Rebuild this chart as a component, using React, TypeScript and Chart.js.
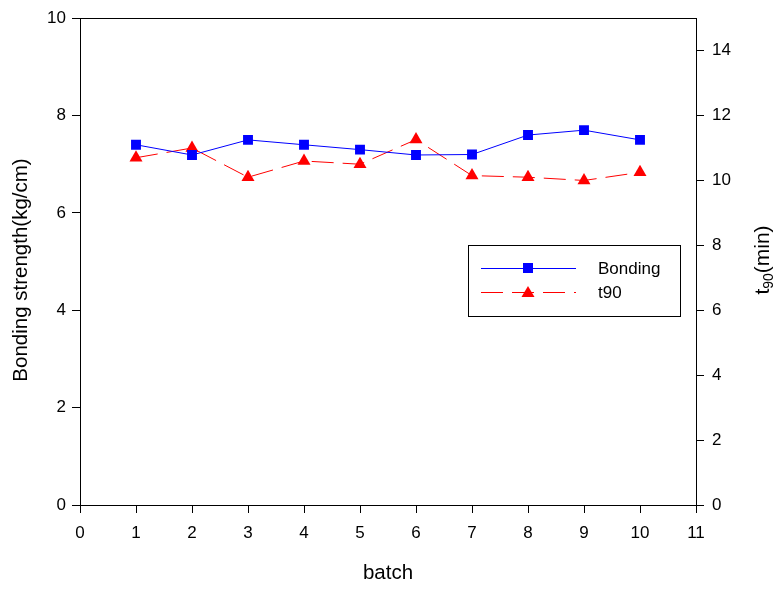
import React, { useEffect, useRef } from "react";
import { Chart, registerables } from "chart.js";

Chart.register(...registerables);

const batches = [1, 2, 3, 4, 5, 6, 7, 8, 9, 10];
const bondingValues = [7.4, 7.19, 7.5, 7.4, 7.3, 7.19, 7.2, 7.6, 7.7, 7.5];
const t90Values = [10.7, 11.0, 10.1, 10.6, 10.5, 11.26, 10.15, 10.1, 10.0, 10.25];
const xTicks = [0, 1, 2, 3, 4, 5, 6, 7, 8, 9, 10, 11];
const leftTicks = [0, 2, 4, 6, 8, 10];
const rightTicks = [0, 2, 4, 6, 8, 10, 12, 14];

const FONT = "'Liberation Sans', Arial, sans-serif";

const framePlugin = {
  id: "frame",
  afterDraw(chart: any) {
    const { ctx, chartArea: a } = chart;
    ctx.save();
    ctx.strokeStyle = "#000";
    ctx.lineWidth = 1;
    ctx.strokeRect(Math.round(a.left) + 0.5, Math.round(a.top) + 0.5, Math.round(a.right - a.left), Math.round(a.bottom - a.top));

    // axis titles
    ctx.fillStyle = "#000";
    ctx.font = `20.5px ${FONT}`;
    ctx.textAlign = "center";
    ctx.textBaseline = "middle";
    ctx.fillText("batch", (a.left + a.right) / 2, 573);

    ctx.save();
    ctx.translate(21, 270);
    ctx.rotate(-Math.PI / 2);
    ctx.fillText("Bonding strength(kg/cm)", 0, 0);
    ctx.restore();

    // right title t90(min) with subscript
    ctx.save();
    ctx.translate(763, 260);
    ctx.rotate(-Math.PI / 2);
    ctx.textAlign = "left";
    ctx.textBaseline = "middle";
    const p1 = "t";
    const p2 = "90";
    const p3 = "(min)";
    ctx.font = `21px ${FONT}`;
    const w1 = ctx.measureText(p1).width;
    ctx.font = `14px ${FONT}`;
    const w2 = ctx.measureText(p2).width;
    ctx.font = `21px ${FONT}`;
    const w3 = ctx.measureText(p3).width;
    let x = -(w1 + w2 + w3) / 2;
    ctx.fillText(p1, x, 0);
    x += w1;
    ctx.font = `14px ${FONT}`;
    ctx.fillText(p2, x, 6);
    x += w2;
    ctx.font = `21px ${FONT}`;
    ctx.fillText(p3, x, 0);
    ctx.restore();

    // legend
    const lx = 468, ly = 245, lw = 212, lh = 71;
    ctx.fillStyle = "#fff";
    ctx.fillRect(lx, ly, lw, lh);
    ctx.strokeStyle = "#000";
    ctx.strokeRect(lx + 0.5, ly + 0.5, lw, lh);
    // Bonding
    ctx.strokeStyle = "#0000ff";
    ctx.beginPath();
    ctx.moveTo(481, 268.5);
    ctx.lineTo(576, 268.5);
    ctx.stroke();
    ctx.fillStyle = "#0000ff";
    ctx.fillRect(523, 263, 10, 10);
    // t90
    ctx.strokeStyle = "#ff0000";
    ctx.setLineDash([22, 9]);
    ctx.beginPath();
    ctx.moveTo(481, 292.5);
    ctx.lineTo(576, 292.5);
    ctx.stroke();
    ctx.setLineDash([]);
    ctx.fillStyle = "#ff0000";
    ctx.beginPath();
    ctx.moveTo(528, 286);
    ctx.lineTo(534.5, 297);
    ctx.lineTo(521.5, 297);
    ctx.closePath();
    ctx.fill();
    ctx.fillStyle = "#000";
    ctx.font = `17px ${FONT}`;
    ctx.textAlign = "left";
    ctx.fillText("Bonding", 598, 269);
    ctx.fillText("t90", 598, 293);
    ctx.restore();
  },
};

export default function App() {
  const ref = useRef<HTMLCanvasElement>(null);
  useEffect(() => {
    document.body.style.margin = "0";
    const tickCommon = {
      color: "#000",
      font: { family: FONT, size: 17 },
    };
    const gridCommon = {
      display: true,
      drawOnChartArea: false,
      drawTicks: true,
      tickLength: 8,
      color: "#000",
    };
    const chart = new Chart(ref.current!, {
      type: "line",
      data: {
        datasets: [
          {
            label: "Bonding",
            data: batches.map((b, i) => ({ x: b, y: bondingValues[i] })),
            borderColor: "#0000ff",
            backgroundColor: "#0000ff",
            borderWidth: 1,
            pointStyle: "rect",
            pointRadius: 7,
            pointBorderWidth: 0,
            yAxisID: "y",
            tension: 0,
          },
          {
            label: "t90",
            data: batches.map((b, i) => ({ x: b, y: t90Values[i] })),
            borderColor: "#ff0000",
            backgroundColor: "#ff0000",
            borderWidth: 1,
            borderDash: [22, 9],
            pointStyle: "triangle",
            pointRadius: 7.5,
            pointBorderWidth: 0,
            yAxisID: "y2",
            tension: 0,
          },
        ],
      },
      options: {
        animation: false,
        responsive: false,
        maintainAspectRatio: false,
        layout: { padding: { top: 17, left: 0, right: 0, bottom: 0 } },
        plugins: { legend: { display: false }, tooltip: { enabled: false } },
        scales: {
          x: {
            type: "linear",
            min: 0,
            max: 11,
            afterBuildTicks: (s: any) => {
              s.ticks = xTicks.map((v) => ({ value: v }));
            },
            afterFit: (s: any) => {
              s.height = 89;
            },
            ticks: { ...tickCommon, padding: 10 },
            grid: gridCommon,
            border: { display: true, color: "#000" },
          },
          y: {
            position: "left",
            min: 0,
            max: 10,
            afterBuildTicks: (s: any) => {
              s.ticks = leftTicks.map((v) => ({ value: v }));
            },
            afterFit: (s: any) => {
              s.width = 80;
            },
            ticks: { ...tickCommon, padding: 6 },
            grid: gridCommon,
            border: { display: true, color: "#000" },
          },
          y2: {
            position: "right",
            min: 0,
            max: 15,
            afterBuildTicks: (s: any) => {
              s.ticks = rightTicks.map((v) => ({ value: v }));
            },
            afterFit: (s: any) => {
              s.width = 81;
            },
            ticks: { ...tickCommon, padding: 8 },
            grid: gridCommon,
            border: { display: true, color: "#000" },
          },
        },
      },
      plugins: [framePlugin],
    });
    return () => chart.destroy();
  }, []);
  return (
    <div style={{ position: "absolute", left: 0, top: 0, width: 777, height: 594, background: "#fff" }}>
      <canvas ref={ref} width={777} height={594} style={{ width: 777, height: 594 }} />
    </div>
  );
}
